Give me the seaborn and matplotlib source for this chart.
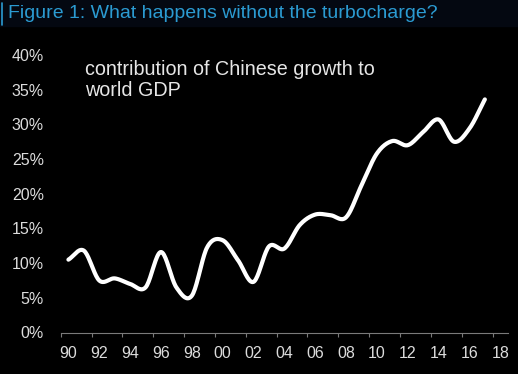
import numpy as np
import pandas as pd
import matplotlib
matplotlib.use("Agg")
import matplotlib.pyplot as plt
import seaborn as sns

# ── data ───────────────────────────────────────────────────
years = list(range(1990, 2018))
share = [10.5, 11.8, 7.5, 7.8, 7.0, 6.5, 11.6, 6.5, 5.3, 12.3,
         13.3, 10.4, 7.3, 12.4, 12.1, 15.5, 17.0, 16.9, 16.6, 21.2,
         25.8, 27.6, 27.0, 28.9, 30.7, 27.5, 29.4, 33.6]
tick_years = list(range(1990, 2019, 2))
tick_labels = [f"{y % 100:02d}" for y in tick_years]
y_ticks = [0, 5, 10, 15, 20, 25, 30, 35, 40]

TITLE = "Figure 1: What happens without the turbocharge?"
NOTE = "contribution of Chinese growth to\nworld GDP"


def smooth(x, y, n=20):
    # catmull-rom, like the spreadsheet "smoothed line" option
    x = np.asarray(x, float)
    y = np.asarray(y, float)
    px = np.r_[2 * x[0] - x[1], x, 2 * x[-1] - x[-2]]
    py = np.r_[2 * y[0] - y[1], y, 2 * y[-1] - y[-2]]
    xs, ys = [], []
    t = np.linspace(0, 1, n, endpoint=False)
    for i in range(1, len(px) - 2):
        for p, out in ((px, xs), (py, ys)):
            p0, p1, p2, p3 = p[i - 1], p[i], p[i + 1], p[i + 2]
            out.extend(0.5 * (2 * p1 + (-p0 + p2) * t
                              + (2 * p0 - 5 * p1 + 4 * p2 - p3) * t ** 2
                              + (-p0 + 3 * p1 - 3 * p2 + p3) * t ** 3))
    xs.append(x[-1])
    ys.append(y[-1])
    return np.array(xs), np.array(ys)


sns.set_theme(style="dark")
plt.rcParams["font.family"] = ["Liberation Sans", "DejaVu Sans"]

fig = plt.figure(figsize=(5.18, 3.74), dpi=100, facecolor="black")
ax = fig.add_axes([60.7 / 518, 41.5 / 374, 447.3 / 518, 277.5 / 374])
ax.set_facecolor("black")

sx, sy = smooth(years, share)
df = pd.DataFrame({"year": sx, "share": sy})
sns.lineplot(data=df, x="year", y="share", ax=ax, color="white",
             linewidth=3.0, sort=False, solid_capstyle="round")

ax.set_xlim(1989.5, 2018.5)
ax.set_ylim(0, 40)
ax.set_yticks(y_ticks)
ax.set_yticklabels([f"{v}%" for v in y_ticks])
ax.set_xticks([y - 0.5 for y in tick_years])
ax.set_xticklabels([])
ax.set_xticks(tick_years, minor=True)
ax.set_xticklabels(tick_labels, minor=True)
ax.tick_params(axis="x", which="major", length=3, width=0.8, color="#7a7a7a",
               direction="out", bottom=True)
ax.tick_params(axis="x", which="minor", length=0, labelsize=11.5,
               labelcolor="#dcdcdc", pad=10)
ax.tick_params(axis="y", length=0, labelsize=11.5, labelcolor="#dcdcdc", pad=12)
ax.set_xlabel("")
ax.set_ylabel("")
ax.grid(False)
for side in ["left", "right", "top"]:
    ax.spines[side].set_visible(False)
ax.spines["bottom"].set_color("#7a7a7a")
ax.spines["bottom"].set_linewidth(0.8)

fig.text(85 / 518, 1 - 60 / 374, NOTE, ha="left", va="top",
         fontsize=14.2, color="#e6e6e6", linespacing=1.12)

# title strip
fig.patches.append(plt.Rectangle((0, 1 - 26 / 374), 1, 26 / 374,
                                 transform=fig.transFigure, color="#040811",
                                 zorder=0))
fig.lines.append(plt.Line2D([1.5 / 518, 1.5 / 518], [1 - 3 / 374, 1 - 25 / 374],
                            transform=fig.transFigure, color="#2b9bd2", lw=1.2))
fig.text(8 / 518, 1 - 13 / 374, TITLE, ha="left", va="center",
         fontsize=14, color="#2b9bd2")

fig.savefig("out.png", dpi=100, facecolor="black")
